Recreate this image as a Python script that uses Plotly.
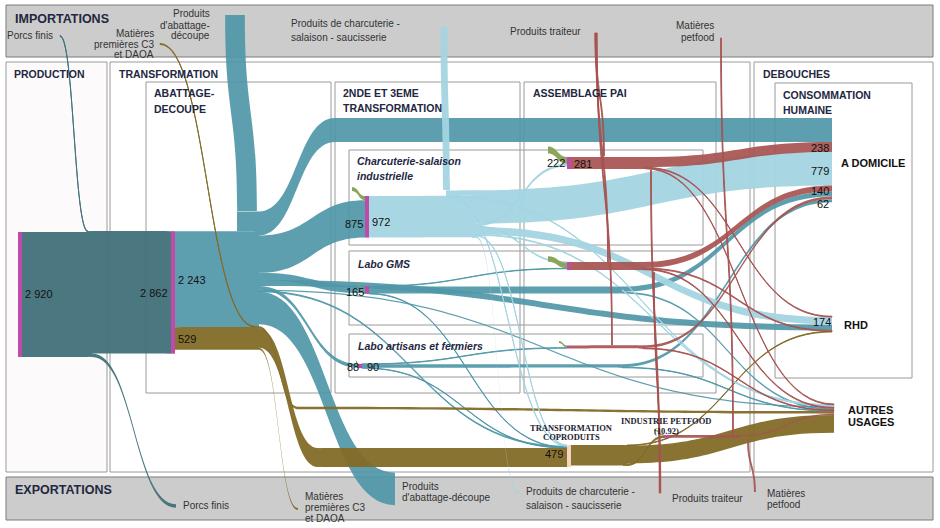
import plotly.graph_objects as go

W, H = 940, 528

# ---- flux (mêmes unités que les étiquettes du schéma) ----------------------
porcs = [
    ("prod", "hub_porcs", 2920),
    ("imp_porcs", "hub_porcs", 20),
    ("hub_porcs", "abattage", 2862),
    ("hub_porcs", "exp_porcs", 78),
]

pdts_abattage = [
    ("abattage", "hub_abat", 2243),
    ("imp_abat", "hub_abat", 460),
    ("hub_abat", "wp_dom", 560),
    ("wp_dom", "dom", 560),
    ("hub_abat", "charc", 875),
    ("hub_abat", "gms", 165),
    ("hub_abat", "rhd", 140),
    ("hub_abat", "artis", 88),
    ("hub_abat", "autres", 30),
    ("hub_abat", "copro", 20),
    ("hub_abat", "exp_abat", 760),
    ("gms", "asm2", 10),
    ("gms", "hub_gms", 160),
    ("gms", "copro", 12),
    ("hub_gms", "dom", 120),
    ("hub_gms", "autres", 40),
    ("artis", "asm3", 12),
    ("artis", "hub_artis", 78),
    ("artis", "copro", 10),
    ("hub_artis", "dom", 70),
    ("hub_artis", "autres", 12),
]

coproduits = [
    ("abattage", "hub_copro", 529),
    ("imp_c3", "hub_copro", 20),
    ("hub_copro", "wp_copro", 440),
    ("wp_copro", "copro", 440),
    ("hub_copro", "wp_c3", 60),
    ("wp_c3", "autres", 60),
    ("hub_copro", "exp_c3", 49),
    ("copro", "hub_copro2", 479),
    ("hub_copro2", "petfood", 60),
    ("hub_copro2", "rhd", 15),
    ("hub_copro2", "autres", 414),
]

charcuterie = [
    ("charc", "hub_charc", 972),
    ("imp_charc", "hub_charc", 130),
    ("imp_charc", "copro", 15),
    ("imp_charc", "autres", 15),
    ("hub_charc", "dom", 779),
    ("hub_charc", "asm1", 62),
    ("hub_charc", "asm2", 20),
    ("hub_charc", "rhd", 174),
    ("hub_charc", "autres", 18),
    ("hub_charc", "copro", 15),
    ("hub_charc", "exp_charc", 45),
]

traiteur = [
    ("asm1", "hub_trait1", 281),
    ("hub_trait1", "dom", 238),
    ("hub_trait1", "rhd", 18),
    ("hub_trait1", "autres", 18),
    ("asm2", "hub_trait2", 190),
    ("hub_trait2", "dom", 140),
    ("hub_trait2", "rhd", 20),
    ("hub_trait2", "autres", 20),
    ("asm3", "hub_trait3", 70),
    ("hub_trait3", "dom", 62),
    ("hub_trait3", "autres", 15),
    ("petfood", "hub_pet", 65),
    ("hub_pet", "autres", 32),
]

ingredients = [
    ("ing_charc", "charc", 97),
    ("ing_gms", "gms", 8),
    ("ing_artis", "artis", 5),
    ("ing_asm1", "asm1", 160),
    ("ing_asm2", "asm2", 130),
    ("ing_asm3", "asm3", 50),
    ("ing_pet", "petfood", 8),
]

# flux qui descendent verticalement (importations -> entrée, sortie -> exportation)
descentes_traiteur = [
    ("imp_trait", "in_trait1", 20),
    ("imp_trait", "in_trait2", 18),
    ("imp_trait", "in_trait3", 18),
    ("imp_pet", "in_pet", 18),
    ("out_trait1", "exp_trait", 20),
    ("out_trait2", "exp_trait", 15),
    ("out_pet", "exp_pet", 45),
]

# valeurs affichées sur les noeuds
valeurs = ["2 920", "2 862", "2 243", "529", "875", "972", "165", "88", "90",
           "222", "281", "479", "238", "779", "140", "62", "174"]

# ---- styles ----------------------------------------------------------------
COL = {
    "porcs": "rgba(65,112,122,0.95)",
    "abat": "rgba(79,151,168,0.92)",
    "copro": "rgba(131,107,40,0.95)",
    "charc": "rgba(163,212,226,0.95)",
    "trait": "rgba(166,82,80,0.92)",
    "ing": "rgba(139,165,90,1)",
}
MAGENTA = "#bf4aa8"
NONE = "rgba(0,0,0,0)"

families = [(porcs, "porcs"), (pdts_abattage, "abat"), (coproduits, "copro"),
            (charcuterie, "charc"), (traiteur, "trait"), (ingredients, "ing")]

# position des noeuds (pixels, centre)
pos = {
    "prod": (20, 294.5), "hub_porcs": (90, 294), "abattage": (173, 292.4),
    "hub_abat": (257, 269.3), "hub_copro": (257, 338), "wp_dom": (337, 130),
    "wp_copro": (320, 457.5), "wp_c3": (300, 408),
    "charc": (367, 216.8), "gms": (367, 290), "artis": (360, 366),
    "hub_charc": (474, 214), "hub_gms": (620, 290), "hub_artis": (620, 366),
    "asm1": (569, 163), "hub_trait1": (643, 163),
    "asm2": (569, 266), "hub_trait2": (641, 266),
    "asm3": (569, 347), "hub_trait3": (641, 347),
    "copro": (569, 456), "hub_copro2": (625, 455.5),
    "petfood": (666, 436.5), "hub_pet": (738, 436.5),
    "dom": (834, 160.1), "rhd": (834, 324.1), "autres": (836, 418.4),
    "imp_porcs": (58, 36), "imp_c3": (158, 44), "imp_abat": (239, 221.3),
    "imp_charc": (448, 193.8),
    "exp_porcs": (178, 506), "exp_c3": (300, 509), "exp_abat": (397, 489),
    "exp_charc": (521, 493),
    "ing_charc": (350, 189), "ing_gms": (354, 283), "ing_artis": (354, 361),
    "ing_asm1": (546, 150), "ing_asm2": (546, 259), "ing_asm3": (557, 342),
    "ing_pet": (652, 430),
    "dummy_s": (1, 264), "dummy_t": (939, 264),
}

node_color = {k: NONE for k in pos}
for k in ["prod", "abattage", "charc", "gms", "artis", "asm1", "asm2", "asm3", "petfood"]:
    node_color[k] = MAGENTA
node_color["copro"] = "#f8d3bf"
node_color.update({
    "hub_porcs": COL["porcs"], "hub_abat": COL["abat"], "wp_dom": COL["abat"],
    "hub_gms": COL["abat"], "hub_artis": COL["abat"], "imp_abat": COL["abat"],
    "hub_copro": COL["copro"], "wp_copro": COL["copro"], "wp_c3": COL["copro"],
    "hub_copro2": COL["copro"], "hub_charc": COL["charc"], "imp_charc": COL["charc"],
    "hub_trait1": COL["trait"], "hub_trait2": COL["trait"], "hub_trait3": COL["trait"],
    "hub_pet": COL["trait"],
})

# ---- échelle : 2 920 = 125 px ----------------------------------------------
K = 125 / 2920
flows = [(s, t, v, fam) for lst, fam in families for s, t, v in lst]
vin, vout = {}, {}
for s, t, v, _ in flows:
    vout[s] = vout.get(s, 0) + v
    vin[t] = vin.get(t, 0) + v
keys = [k for k in pos if k not in ("dummy_s", "dummy_t")]
val = {k: max(vin.get(k, 0), vout.get(k, 0)) for k in keys}
col_first = sum(val[k] for k in keys if k not in vin)
col_last = sum(val[k] for k in keys if k not in vout)
flows.append(("dummy_s", "dummy_t", H / K - max(col_first, col_last), None))

idx = {k: i for i, k in enumerate(pos)}
fig = go.Figure(go.Sankey(
    arrangement="fixed",
    domain=dict(x=[0, 1], y=[0, 1]),
    hoverinfo="none",
    node=dict(
        label=["" for _ in pos],
        x=[pos[k][0] / W for k in pos],
        y=[pos[k][1] / H for k in pos],
        color=[node_color[k] for k in pos],
        thickness=4,
        pad=0,
        line=dict(width=0),
    ),
    link=dict(
        source=[idx[s] for s, _, _, _ in flows],
        target=[idx[t] for _, t, _, _ in flows],
        value=[v for _, _, v, _ in flows],
        color=[COL[f] if f else NONE for *_, f in flows],
        line=dict(width=0),
    ),
))

# ---- tronçons verticaux (sankey vertical, même échelle) ---------------------
vflows = [
    ("va_top", "va_bot", vout["imp_abat"], "abat"),
    ("vc_top", "vc_bot", vout["imp_charc"], "charc"),
] + [(s, t, v, "trait") for s, t, v in descentes_traiteur]
vpos = {"va_top": (235, 17), "va_bot": (247, 209),
        "vc_top": (444, 29), "vc_bot": (446.5, 188),
        "imp_trait": (596, 31), "in_trait1": (604, 158), "in_trait2": (608, 264),
        "in_trait3": (612, 347), "imp_pet": (721, 36), "in_pet": (733, 436),
        "out_trait1": (651, 168), "out_trait2": (654, 270), "exp_trait": (660, 495),
        "out_pet": (748, 438), "exp_pet": (755, 494),
        "vd_s": (470, 2), "vd_t": (470, 526)}
vflows.append(("vd_s", "vd_t", W / K - sum(v for _, _, v, _ in vflows), None))
vidx = {k: i for i, k in enumerate(vpos)}
vcol = {k: NONE for k in vpos}
vcol.update({"va_top": COL["abat"], "va_bot": COL["abat"],
             "vc_top": COL["charc"], "vc_bot": COL["charc"]})
fig.add_trace(go.Sankey(
    orientation="v",
    arrangement="fixed",
    domain=dict(x=[0, 1], y=[0, 1]),
    hoverinfo="none",
    node=dict(
        label=["" for _ in vpos],
        # en orientation verticale, x suit le flux (vertical) et y le travers
        x=[vpos[k][1] / W for k in vpos],
        y=[vpos[k][0] / H for k in vpos],
        color=[vcol[k] for k in vpos],
        thickness=4,
        pad=0,
        line=dict(width=0),
    ),
    link=dict(
        source=[vidx[s] for s, _, _, _ in vflows],
        target=[vidx[t] for _, t, _, _ in vflows],
        value=[v for _, _, v, _ in vflows],
        color=[COL[f] if f else NONE for *_, f in vflows],
        line=dict(width=0),
    ),
))


def box(x0, y0, x1, y1, fill=NONE, line="#9a9a9a"):
    return dict(type="rect", xref="paper", yref="paper", layer="below",
                x0=x0 / W, x1=x1 / W, y0=1 - y0 / H, y1=1 - y1 / H,
                fillcolor=fill, line=dict(color=line, width=1))


shapes = [
    box(6, 5, 933, 57, fill="#cccccc", line="#7a7a7a"),
    box(6, 477, 933, 520, fill="#cccccc", line="#7a7a7a"),
    box(6, 62, 107, 472, fill="#fdfafc"),
    box(110, 62, 750, 472, fill="white"),
    box(754, 62, 933, 472, fill="white"),
    box(146, 82, 331, 393),
    box(335, 82, 520, 393),
    box(524, 82, 716, 393),
    box(775, 83, 912, 378),
    box(349, 150, 703, 245),
    box(349, 251, 703, 325),
    box(349, 334, 703, 377),
]

SANS = "Liberation Sans, Arial, sans-serif"
SERIF = "Liberation Serif, Times New Roman, serif"
NAVY = "#23273f"


def note(x, y, text, size=10, anchor="left", color="#333", family=SANS):
    return dict(x=x / W, y=1 - y / H, xref="paper", yref="paper", text=text,
                showarrow=False, xanchor=anchor, yanchor="middle",
                font=dict(size=size, color=color, family=family))


ann = []
# titres des cadres
for x, y, t, s in [(13, 19, "IMPORTATIONS", 12.5), (13, 490, "EXPORTATIONS", 12.5),
                   (12, 74, "PRODUCTION", 10.5), (117, 74, "TRANSFORMATION", 10.5),
                   (152, 93, "ABATTAGE-", 10.5), (152, 109, "DECOUPE", 10.5),
                   (341, 93, "2NDE ET 3EME", 10.5), (341, 108, "TRANSFORMATION", 10.5),
                   (531, 93, "ASSEMBLAGE PAI", 10.5), (761, 74, "DEBOUCHES", 10.5),
                   (781, 95, "CONSOMMATION", 10.5), (781, 110, "HUMAINE", 10.5)]:
    ann.append(note(x, y, f"<b>{t}</b>", s, color=NAVY))
for x, y, t in [(355, 161, "Charcuterie-salaison"), (355, 176, "industrielle"),
                (356, 264, "Labo GMS"), (356, 346, "Labo artisans et fermiers")]:
    ann.append(note(x, y, f"<b><i>{t}</i></b>", 10.5, color=NAVY))

# importations
for x, y, t in [(55, 36, "Porcs finis"),
                (156, 33, "Matières"), (156, 44, "premières C3"), (156, 55, "et DAOA"),
                (212, 14, "Produits"), (212, 25, "d'abattage-"), (212, 36, "découpe"),
                (583, 31, "Produits traiteur"),
                (716, 26, "Matières"), (716, 37, "petfood")]:
    ann.append(note(x, y, t, anchor="right"))
for x, y, t in [(289, 24, "Produits de charcuterie -"), (289, 37, "salaison - saucisserie")]:
    ann.append(note(x, y, t))
# exportations
for x, y, t in [(181, 505, "Porcs finis"),
                (303, 496, "Matières"), (303, 507, "premières C3"), (303, 518, "et DAOA"),
                (400, 486, "Produits"), (400, 497, "d'abattage-découpe"),
                (524, 491, "Produits de charcuterie -"), (524, 505, "salaison - saucisserie"),
                (670, 498, "Produits traiteur"),
                (765, 493, "Matières"), (765, 504, "petfood")]:
    ann.append(note(x, y, t))

# valeurs des noeuds
val_pos = [(23, 294, "left"), (170, 293, "right"), (176, 280, "left"), (176, 339, "left"),
           (365, 224, "right"), (370, 222, "left"), (366, 292, "right"),
           (361, 367, "right"), (365, 367, "left"), (567, 163, "right"), (572, 164, "left"),
           (565, 454, "right"), (831, 148, "right"), (831, 171, "right"),
           (831, 191, "right"), (831, 204, "right"), (833, 322, "right")]
for (x, y, a), t in zip(val_pos, valeurs):
    ann.append(note(x, y, t, 11, anchor=a, color="#111"))

# débouchés
for x, y, t in [(839, 163, "A DOMICILE"), (842, 325, "RHD"),
                (846, 410, "AUTRES"), (846, 422, "USAGES")]:
    ann.append(note(x, y, f"<b>{t}</b>", 11, color="#111"))
for x, y, t in [(571, 428, "TRANSFORMATION"), (571, 437, "COPRODUITS"),
                (666, 421, "INDUSTRIE PETFOOD"), (666, 431, "(10.92)")]:
    ann.append(note(x, y, f"<b>{t}</b>", 8.5, anchor="center", color="#1c1c30", family=SERIF))

fig.update_layout(
    width=W, height=H,
    margin=dict(l=0, r=0, t=0, b=0),
    paper_bgcolor="white",
    plot_bgcolor="white",
    shapes=shapes,
    annotations=ann,
    showlegend=False,
)

# la page HTML a une marge de 8 px par défaut : on la retire
fig.write_html("out.html", config={"displayModeBar": False},
               post_script="document.body.style.margin = '0';")
